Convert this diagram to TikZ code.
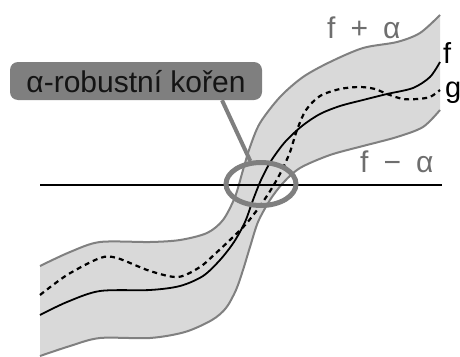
\documentclass[tikz,border=0pt]{standalone}
\usepackage{fontspec}
\setmainfont{Liberation Sans}
\usetikzlibrary{shapes.geometric, positioning}
\definecolor{bandfill}{HTML}{D9D9D9}
\definecolor{bandedge}{HTML}{808080}
\definecolor{markgray}{HTML}{7F7F7F}
\definecolor{labelgray}{HTML}{6E6E6E}
\definecolor{textdark}{HTML}{141414}
\newcommand{\bigtext}{\fontsize{30}{36}\selectfont}
\newcommand{\curvetext}{\fontsize{29}{34}\selectfont}

\begin{document}
\begin{tikzpicture}[x=1pt, y=-1pt]
    \useasboundingbox (0,0) rectangle (460,356);
    \fill[bandfill] plot[smooth] coordinates {(40,266) (70,252) (100,242) (150,242) (180,240) (207,233) (223,220) (235,197) (243,170) (250,147) (260,123) (280,97) (303,77) (330,62) (363,48) (397,42) (420,33) (440,15)}
      -- plot[smooth] coordinates {(440,110) (423,127) (397,137) (363,146) (330,155) (300,168) (283,183) (270,200) (258,222) (250,247) (243,270) (236,290) (226,308) (212,320) (185,332) (150,338) (100,338) (70,346) (40,356)} -- cycle;
    \draw[bandedge, line width=2pt] plot[smooth] coordinates {(40,266) (70,252) (100,242) (150,242) (180,240) (207,233) (223,220) (235,197) (243,170) (250,147) (260,123) (280,97) (303,77) (330,62) (363,48) (397,42) (420,33) (440,15)};
    \draw[bandedge, line width=2pt] plot[smooth] coordinates {(440,110) (423,127) (397,137) (363,146) (330,155) (300,168) (283,183) (270,200) (258,222) (250,247) (243,270) (236,290) (226,308) (212,320) (185,332) (150,338) (100,338) (70,346) (40,356)};
    \draw[line width=1.8pt] plot[smooth] coordinates {(40,315) (67,302) (100,291) (150,290) (180,286) (203,276) (220,260) (234,242) (245,222) (253,200) (261,180) (271,161) (285,142) (302,126) (320,114) (340,106) (363,100) (387,94) (413,88) (430,77) (440,62)};
    \draw[line width=2.2pt, dash pattern=on 5pt off 4pt] plot[smooth] coordinates {(40,295) (67,275) (100,258) (117,258) (150,271) (178,277) (200,267) (216,253) (231,239) (246,224) (260,206) (272,188) (282,170) (290,152) (297,130) (306,110) (320,96) (340,89) (360,87) (375,89) (387,94) (403,99) (417,99) (430,97) (440,90)};
    \coordinate (axisleft) at (40,185);
    \coordinate (axisright) at (442,185);
    \draw[line width=2.7pt] (axisleft) -- (axisright);
    \node[ellipse, draw=markgray, line width=5pt, minimum width=70pt, minimum height=43pt] (rootmark) at (261,184) {};
    \node[fill=markgray, rounded corners=8pt, minimum width=252pt, minimum height=38pt, inner sep=0pt,
          text height=22pt, text depth=0pt, text=textdark, font=\bigtext] (rootlabel) at (136,81) {α-robustní kořen};
    \draw[markgray, line width=4pt] ([xshift=86pt]rootlabel.south) -- (rootmark.115);
    \node[anchor=base west, inner sep=0pt, text=labelgray, font=\bigtext] (upperlabel) at (327,38) {f\hspace{15pt}+\hspace{15pt}α};
    \node[anchor=base west, inner sep=0pt, text=labelgray, font=\bigtext] (lowerlabel) at (360,172) {f\hspace{15pt}−\hspace{15pt}α};
    \node[anchor=base west, inner sep=0pt, font=\curvetext] (flabel) at (443,63) {f};
    \node[anchor=base west, inner sep=0pt, font=\curvetext] (glabel) at (445,97) {g};
\end{tikzpicture}
\end{document}
